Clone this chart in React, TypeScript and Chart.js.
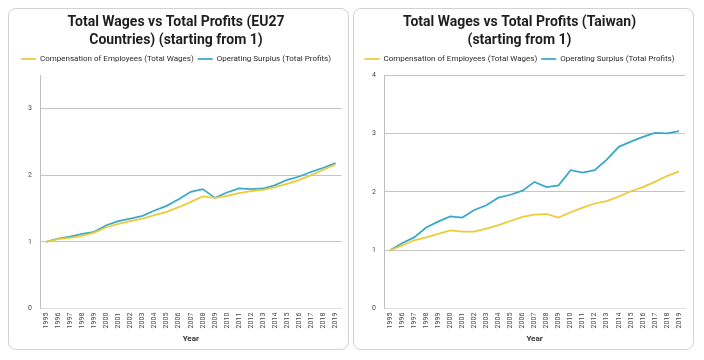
import React, { useEffect, useRef } from "react";
import { Chart, registerables } from "chart.js";

Chart.register(...registerables);

const years = [
  "1995", "1996", "1997", "1998", "1999", "2000", "2001", "2002", "2003",
  "2004", "2005", "2006", "2007", "2008", "2009", "2010", "2011", "2012",
  "2013", "2014", "2015", "2016", "2017", "2018", "2019",
];

const euWages = [
  1.0, 1.04, 1.06, 1.09, 1.14, 1.22, 1.27, 1.31, 1.35, 1.4, 1.45, 1.52, 1.6,
  1.68, 1.66, 1.69, 1.73, 1.76, 1.78, 1.82, 1.87, 1.93, 2.0, 2.08, 2.16,
];
const euProfits = [
  1.0, 1.05, 1.08, 1.12, 1.15, 1.25, 1.31, 1.35, 1.39, 1.47, 1.54, 1.64, 1.75,
  1.79, 1.66, 1.74, 1.8, 1.79, 1.8, 1.85, 1.93, 1.98, 2.05, 2.11, 2.18,
];

const twWages = [
  1.0, 1.08, 1.17, 1.22, 1.28, 1.34, 1.32, 1.32, 1.37, 1.43, 1.5, 1.57, 1.61,
  1.62, 1.56, 1.65, 1.73, 1.8, 1.84, 1.92, 2.01, 2.08, 2.17, 2.27, 2.35,
];
const twProfits = [
  1.0, 1.12, 1.22, 1.39, 1.49, 1.58, 1.56, 1.69, 1.77, 1.9, 1.95, 2.02, 2.17,
  2.08, 2.11, 2.37, 2.33, 2.37, 2.55, 2.77, 2.86, 2.94, 3.01, 3.0, 3.04,
];

const wagesLabel = "Compensation of Employees (Total Wages)";
const profitsLabel = "Operating Surplus (Total Profits)";
const euTitle = ["Total Wages vs Total Profits (EU27", "Countries) (starting from 1)"];
const twTitle = ["Total Wages vs Total Profits (Taiwan)", "(starting from 1)"];

const YELLOW = "#eccb3a";
const BLUE = "#3aa9c9";
const FONT = "'Roboto', sans-serif";

type PanelProps = {
  title: string[];
  wages: number[];
  profits: number[];
  yMax: number;
  yWidth: number;
  padRight: number;
};

function Panel({ title, wages, profits, yMax, yWidth, padRight }: PanelProps) {
  const ref = useRef<HTMLCanvasElement | null>(null);

  useEffect(() => {
    if (!ref.current) return;
    const legendGap = {
      id: "legendGap",
      beforeInit(chart: any) {
        const origFit = chart.legend.fit;
        chart.legend.fit = function () {
          origFit.bind(chart.legend)();
          this.height += 2;
        };
      },
    };
    const chart = new Chart(ref.current, {
      type: "line",
      data: {
        labels: years,
        datasets: [
          {
            label: wagesLabel,
            data: wages,
            borderColor: YELLOW,
            backgroundColor: YELLOW,
            borderWidth: 1.75,
            pointRadius: 0,
            tension: 0,
          },
          {
            label: profitsLabel,
            data: profits,
            borderColor: BLUE,
            backgroundColor: BLUE,
            borderWidth: 1.75,
            pointRadius: 0,
            tension: 0,
          },
        ],
      },
      options: {
        animation: false,
        responsive: true,
        maintainAspectRatio: false,
        layout: { padding: { left: 0, right: padRight, top: 0, bottom: 3 } },
        plugins: {
          title: {
            display: true,
            text: title,
            color: "#1f1f1f",
            font: { family: FONT, size: 14, weight: "bold", lineHeight: 1.25 },
            padding: { top: 5, bottom: 2 },
          },
          legend: {
            display: true,
            labels: {
              usePointStyle: true,
              pointStyle: "line",
              pointStyleWidth: 15,
              boxWidth: 15,
              boxHeight: 8,
              color: "#2a2a2a",
              padding: 4,
              font: { family: FONT, size: 8 },
            },
          },
          tooltip: { enabled: false },
        },
        scales: {
          x: {
            offset: true,
            grid: { display: false, drawTicks: false },
            border: { display: true, color: "#dddddd" },
            ticks: {
              autoSkip: false,
              minRotation: 90,
              maxRotation: 90,
              padding: 4,
              color: "#444",
              font: { family: FONT, size: 7 },
            },
            title: {
              display: true,
              text: "Year",
              color: "#333",
              font: { family: FONT, size: 8, weight: "bold" },
              padding: { top: 2, bottom: 2 },
            },
          },
          y: {
            min: 0,
            max: yMax,
            afterBuildTicks(scale: any) {
              scale.ticks = scale.ticks.filter((t: any) => Number.isInteger(t.value));
            },
            afterFit(scale: any) {
              scale.width = yWidth;
            },
            grid: { color: "#c4c4c4", drawTicks: false, lineWidth: 1 },
            border: { display: true, color: "#bdbdbd" },
            ticks: {
              stepSize: 1,
              padding: 8,
              color: "#444",
              font: { family: FONT, size: 7 },
            },
          },
        },
      },
      plugins: [legendGap],
    });
    return () => chart.destroy();
  }, [title, wages, profits, yMax, yWidth, padRight]);

  return (
    <div
      style={{
        width: 341,
        height: 342,
        border: "1px solid #d2d2d2",
        borderRadius: 8,
        boxSizing: "border-box",
        position: "relative",
        background: "#fff",
      }}
    >
      <div style={{ position: "absolute", left: 0, top: 0, width: 339, height: 340 }}>
        <canvas ref={ref} />
      </div>
    </div>
  );
}

export default function App() {
  return (
    <div style={{ display: "flex", gap: 4 }}>
      <Panel title={euTitle} wages={euWages} profits={euProfits} yMax={3.5} yWidth={31} padRight={5} />
      <Panel title={twTitle} wages={twWages} profits={twProfits} yMax={4} yWidth={30} padRight={8} />
    </div>
  );
}
